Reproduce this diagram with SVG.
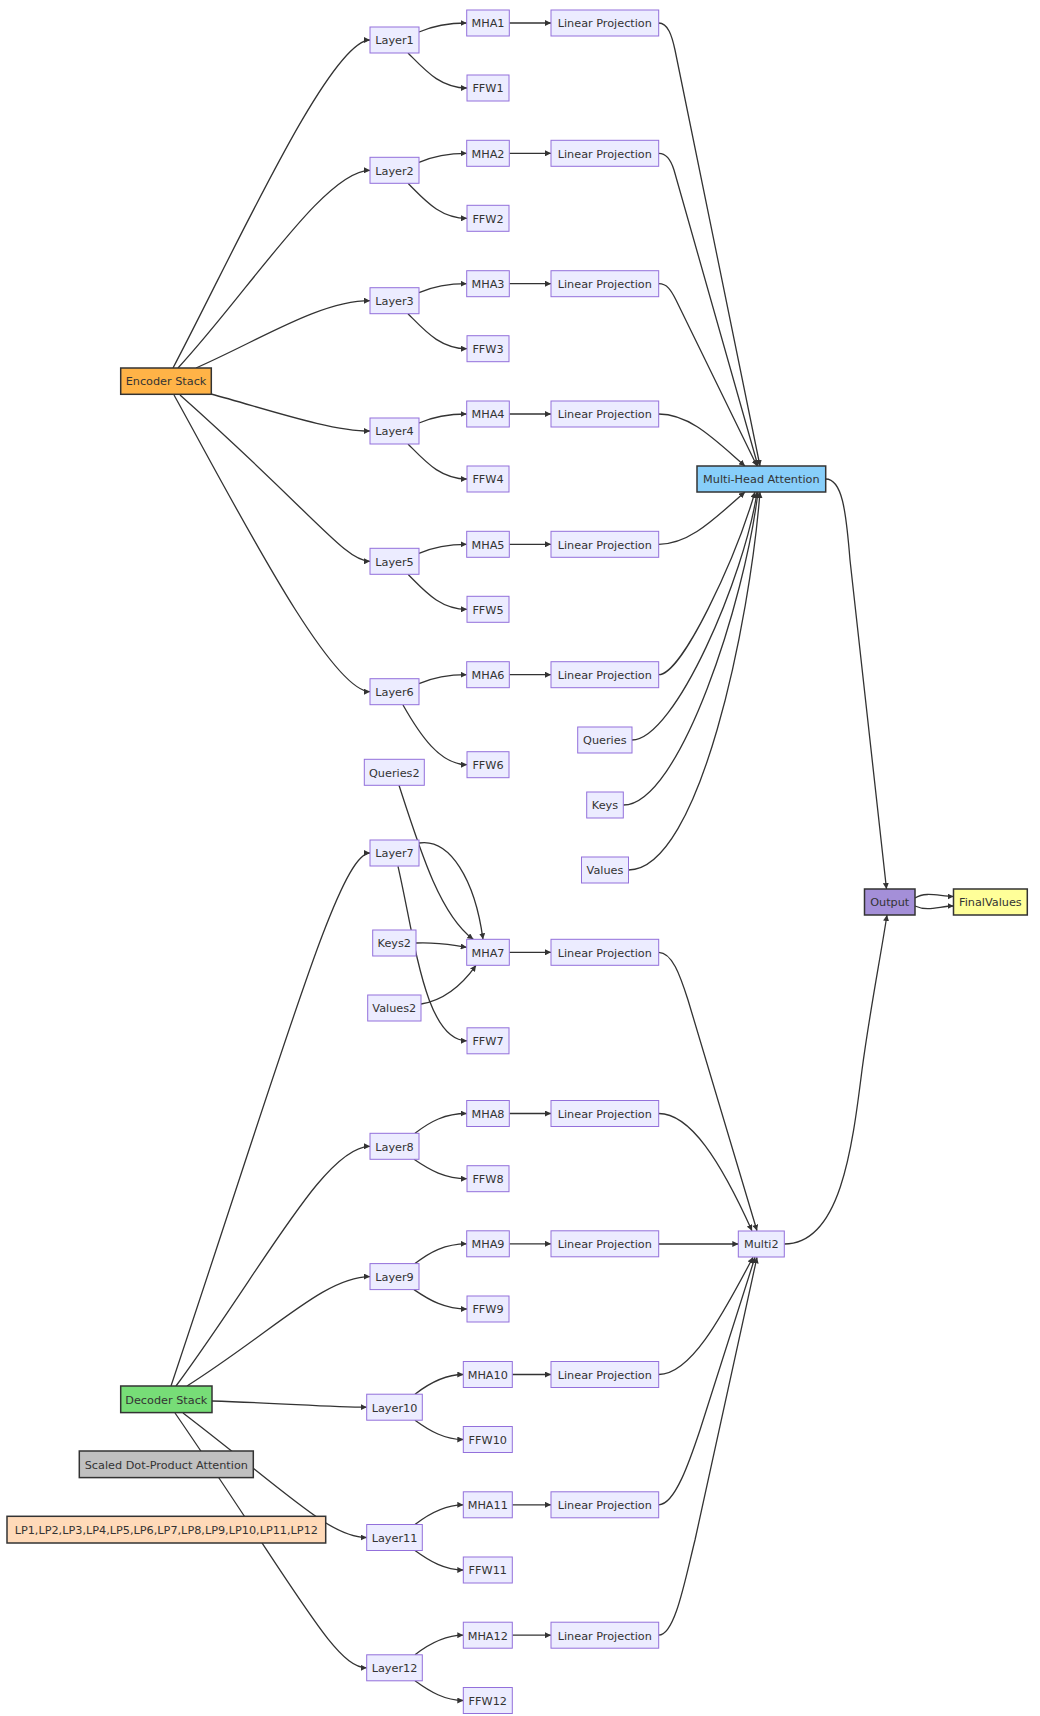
<svg xmlns="http://www.w3.org/2000/svg" width="1040" height="1716" viewBox="0 0 1040 1716">
<defs>
<marker id="arr" viewBox="0 0 10 10" refX="10" refY="5" markerWidth="6" markerHeight="6" markerUnits="userSpaceOnUse" orient="auto"><path d="M0,0 L10,5 L0,10 z" fill="#333"/></marker>
</defs>
<style>
.e{fill:none;stroke:#333;stroke-width:1.3;marker-end:url(#arr)}
.n rect{fill:#ECECFF;stroke:#9370DB;stroke-width:1}
.s rect{stroke:#333;stroke-width:1.5}
text{font-family:"DejaVu Sans",Verdana,sans-serif;font-size:11.25px;fill:#333;text-anchor:middle}
</style>
<rect width="1040" height="1716" fill="#fff"/>
<g id="connectors">
<path class="e" d="M173,368 C235,250 330,40 370,40"/>
<path class="e" d="M178,368 C250,290 325,170.3 370,170.3"/>
<path class="e" d="M196,368 C260,340 320,300.7 370,300.7"/>
<path class="e" d="M211,394 C270,410 330,431 370,431"/>
<path class="e" d="M180,395 C315,515 345,561.3 370,561.3"/>
<path class="e" d="M174,395 C235,505 330,691.7 370,691.7"/>
<path class="e" d="M419,32 C435,25 450,23 466.7,23"/>
<path class="e" d="M419,162.3 C435,155.3 450,153.3 466.7,153.3"/>
<path class="e" d="M419,292.7 C435,285.7 450,283.7 466.7,283.7"/>
<path class="e" d="M419,423 C435,416 450,414 466.7,414"/>
<path class="e" d="M419,553.3 C435,546.3 450,544.3 466.7,544.3"/>
<path class="e" d="M419,683.7 C435,676.7 450,674.7 466.7,674.7"/>
<path class="e" d="M408,53 C425,70 440,88 467,88"/>
<path class="e" d="M408,183.3 C425,200.3 440,218.3 467,218.3"/>
<path class="e" d="M408,313.7 C425,330.7 440,348.7 467,348.7"/>
<path class="e" d="M408,444 C425,461 440,479 467,479"/>
<path class="e" d="M408,574.3 C425,591.3 440,609.3 467,609.3"/>
<path class="e" d="M403,705 C420,735 440,764.7 467,764.7"/>
<path class="e" d="M509.3,23 L551,23"/>
<path class="e" d="M509.3,153.3 L551,153.3"/>
<path class="e" d="M509.3,283.7 L551,283.7"/>
<path class="e" d="M509.3,414 L551,414"/>
<path class="e" d="M509.3,544.3 L551,544.3"/>
<path class="e" d="M509.3,674.7 L551,674.7"/>
<path class="e" d="M658.7,23 C668,23 672,36 675,50 L760,466"/>
<path class="e" d="M658.7,153.3 C667,153.3 671,160 674,170 L758,466"/>
<path class="e" d="M658.7,283.7 C667,283.7 671,290 676,300 L757,466"/>
<path class="e" d="M658.7,414 C690,414 715,440 745,466"/>
<path class="e" d="M658.7,544.3 C690,544.3 715,518 745,492"/>
<path class="e" d="M658.7,674.7 C682,674.7 735,560 755,492"/>
<path class="e" d="M632,740 C675,740 745,575 757,492"/>
<path class="e" d="M623.3,805 C680,805 745,600 758,492"/>
<path class="e" d="M628.5,870 C700,870 750,620 760,492"/>
<path class="e" d="M825.7,479 C842,479 846,510 850,560 L886.5,889"/>
<path class="e" d="M915,898 C926,891 940,896.5 953.5,896.5"/>
<path class="e" d="M915,906 C928,912 940,906 953.5,906"/>
<path class="e" d="M784.3,1244 C840,1244 852,1150 862,1070 C870,1010 880,960 887,915"/>
<path class="e" d="M171,1386 C290,1030 340,853 370,853"/>
<path class="e" d="M176,1386 C265,1265 325,1146.3 370,1146.3"/>
<path class="e" d="M187,1386 C275,1330 325,1276.6 370,1276.6"/>
<path class="e" d="M212,1401 C280,1403 330,1407.2 366.7,1407.2"/>
<path class="e" d="M183,1413 C290,1495 330,1537.5 366.7,1537.5"/>
<path class="e" d="M175,1413 C300,1595 335,1667.8 366.7,1667.8"/>
<path class="e" d="M419,843 C450,838 475,880 483,939.3"/>
<path class="e" d="M398,866.3 C415,940 425,1040.8 467,1040.8"/>
<path class="e" d="M399,785.3 C420,850 440,915 473.3,939.3"/>
<path class="e" d="M416,943 C440,942 450,945 466.7,947.3"/>
<path class="e" d="M421,1004 C445,1000 462,985 476,965.3"/>
<path class="e" d="M509.3,952.3 L551,952.3"/>
<path class="e" d="M415,1133.3 C430,1121.5 445,1113.5 466.7,1113.5"/>
<path class="e" d="M415,1263.6 C430,1251.8 445,1243.8 466.7,1243.8"/>
<path class="e" d="M415,1394.2 C430,1382.5 445,1374.5 463.3,1374.5"/>
<path class="e" d="M415,1524.5 C430,1512.8 445,1504.8 463.3,1504.8"/>
<path class="e" d="M415,1654.8 C430,1643.2 445,1635.2 463.3,1635.2"/>
<path class="e" d="M414,1159.3 C430,1170.3 445,1178.7 467,1178.7"/>
<path class="e" d="M414,1289.6 C430,1300.6 445,1309 467,1309"/>
<path class="e" d="M415,1420.2 C430,1431.2 445,1439.5 463.3,1439.5"/>
<path class="e" d="M415,1550.5 C430,1561.5 445,1570 463.3,1570"/>
<path class="e" d="M415,1680.8 C430,1691.8 445,1700.5 463.3,1700.5"/>
<path class="e" d="M509.3,1113.5 L551,1113.5"/>
<path class="e" d="M509.3,1243.8 L551,1243.8"/>
<path class="e" d="M512.3,1374.5 L551,1374.5"/>
<path class="e" d="M512.3,1504.8 L551,1504.8"/>
<path class="e" d="M512.3,1635.2 L551,1635.2"/>
<path class="e" d="M658.7,952.3 C672,952.3 680,975 688,1000 L757,1230.7"/>
<path class="e" d="M658.7,1113.5 C690,1113.5 720,1160 752,1230.7"/>
<path class="e" d="M658.7,1244 L738.3,1244"/>
<path class="e" d="M658.7,1374.5 C690,1374.5 720,1320 753,1257.3"/>
<path class="e" d="M658.7,1504.8 C675,1504.8 690,1460 700,1430 L755,1257.3"/>
<path class="e" d="M658.7,1635.2 C675,1635.2 685,1580 695,1540 L757,1257.3"/>
</g>
<g id="EncoderStack" class="n s"><rect x="120.7" y="368" width="90.6" height="26.3" style="fill:#FFB347"/><text x="166" y="385.3">Encoder Stack</text></g>
<g id="DecoderStack" class="n s"><rect x="120.7" y="1386" width="91.3" height="26.6" style="fill:#77DD77"/><text x="166.3" y="1403.6">Decoder Stack</text></g>
<g id="ScaledDotProduct" class="n s"><rect x="79.3" y="1451" width="174" height="26.6" style="fill:#C0C0C0"/><text x="166.3" y="1468.6">Scaled Dot-Product Attention</text></g>
<g id="LPList" class="n s"><rect x="7" y="1516.3" width="318.7" height="26.7" style="fill:#FFDAB9"/><text x="166.3" y="1534">LP1,LP2,LP3,LP4,LP5,LP6,LP7,LP8,LP9,LP10,LP11,LP12</text></g>
<g id="MultiHeadAttention" class="n s"><rect x="697" y="466" width="128.7" height="26" style="fill:#87CEFA"/><text x="761.3" y="483.3">Multi-Head Attention</text></g>
<g id="Output" class="n s"><rect x="864.5" y="889" width="50.5" height="26" style="fill:#A48FD8"/><text x="889.7" y="906.3">Output</text></g>
<g id="FinalValues" class="n s"><rect x="953.5" y="889" width="73.8" height="26" style="fill:#FFFF99"/><text x="990.4" y="906.3">FinalValues</text></g>
<g id="Multi2" class="n"><rect x="738.3" y="1231" width="46" height="26"/><text x="761.3" y="1248.3">Multi2</text></g>
<g id="Layer1" class="n"><rect x="370" y="27" width="49" height="26"/><text x="394.5" y="44.3">Layer1</text></g>
<g id="Layer2" class="n"><rect x="370" y="157.3" width="49" height="26"/><text x="394.5" y="174.6">Layer2</text></g>
<g id="Layer3" class="n"><rect x="370" y="287.7" width="49" height="26"/><text x="394.5" y="305">Layer3</text></g>
<g id="Layer4" class="n"><rect x="370" y="418" width="49" height="26"/><text x="394.5" y="435.3">Layer4</text></g>
<g id="Layer5" class="n"><rect x="370" y="548.3" width="49" height="26"/><text x="394.5" y="565.6">Layer5</text></g>
<g id="Layer6" class="n"><rect x="370" y="678.7" width="49" height="26"/><text x="394.5" y="696">Layer6</text></g>
<g id="Layer7" class="n"><rect x="370" y="840" width="49" height="26"/><text x="394.5" y="857.3">Layer7</text></g>
<g id="Layer8" class="n"><rect x="370" y="1133.3" width="49" height="26"/><text x="394.5" y="1150.6">Layer8</text></g>
<g id="Layer9" class="n"><rect x="370" y="1263.6" width="49" height="26"/><text x="394.5" y="1280.9">Layer9</text></g>
<g id="Layer10" class="n"><rect x="366.7" y="1394.2" width="55.6" height="26"/><text x="394.5" y="1411.5">Layer10</text></g>
<g id="Layer11" class="n"><rect x="366.7" y="1524.5" width="55.6" height="26"/><text x="394.5" y="1541.8">Layer11</text></g>
<g id="Layer12" class="n"><rect x="366.7" y="1654.8" width="55.6" height="26"/><text x="394.5" y="1672.1">Layer12</text></g>
<g id="MHA1" class="n"><rect x="466.7" y="10" width="42.6" height="26"/><text x="488" y="27.3">MHA1</text></g>
<g id="MHA2" class="n"><rect x="466.7" y="140.3" width="42.6" height="26"/><text x="488" y="157.6">MHA2</text></g>
<g id="MHA3" class="n"><rect x="466.7" y="270.7" width="42.6" height="26"/><text x="488" y="288">MHA3</text></g>
<g id="MHA4" class="n"><rect x="466.7" y="401" width="42.6" height="26"/><text x="488" y="418.3">MHA4</text></g>
<g id="MHA5" class="n"><rect x="466.7" y="531.3" width="42.6" height="26"/><text x="488" y="548.6">MHA5</text></g>
<g id="MHA6" class="n"><rect x="466.7" y="661.7" width="42.6" height="26"/><text x="488" y="679">MHA6</text></g>
<g id="MHA7" class="n"><rect x="466.7" y="939.3" width="42.6" height="26"/><text x="488" y="956.6">MHA7</text></g>
<g id="MHA8" class="n"><rect x="466.7" y="1100.5" width="42.6" height="26"/><text x="488" y="1117.8">MHA8</text></g>
<g id="MHA9" class="n"><rect x="466.7" y="1230.8" width="42.6" height="26"/><text x="488" y="1248.1">MHA9</text></g>
<g id="MHA10" class="n"><rect x="463.3" y="1361.5" width="49" height="26"/><text x="487.8" y="1378.8">MHA10</text></g>
<g id="MHA11" class="n"><rect x="463.3" y="1491.8" width="49" height="26"/><text x="487.8" y="1509.1">MHA11</text></g>
<g id="MHA12" class="n"><rect x="463.3" y="1622.2" width="49" height="26"/><text x="487.8" y="1639.5">MHA12</text></g>
<g id="FFW1" class="n"><rect x="467" y="75" width="42" height="26"/><text x="488" y="92.3">FFW1</text></g>
<g id="FFW2" class="n"><rect x="467" y="205.3" width="42" height="26"/><text x="488" y="222.6">FFW2</text></g>
<g id="FFW3" class="n"><rect x="467" y="335.7" width="42" height="26"/><text x="488" y="353">FFW3</text></g>
<g id="FFW4" class="n"><rect x="467" y="466" width="42" height="26"/><text x="488" y="483.3">FFW4</text></g>
<g id="FFW5" class="n"><rect x="467" y="596.3" width="42" height="26"/><text x="488" y="613.6">FFW5</text></g>
<g id="FFW6" class="n"><rect x="467" y="751.7" width="42" height="26"/><text x="488" y="769">FFW6</text></g>
<g id="FFW7" class="n"><rect x="467" y="1027.8" width="42" height="26"/><text x="488" y="1045.1">FFW7</text></g>
<g id="FFW8" class="n"><rect x="467" y="1165.7" width="42" height="26"/><text x="488" y="1183">FFW8</text></g>
<g id="FFW9" class="n"><rect x="467" y="1296" width="42" height="26"/><text x="488" y="1313.3">FFW9</text></g>
<g id="FFW10" class="n"><rect x="463.3" y="1426.5" width="49" height="26"/><text x="487.8" y="1443.8">FFW10</text></g>
<g id="FFW11" class="n"><rect x="463.3" y="1557" width="49" height="26"/><text x="487.8" y="1574.3">FFW11</text></g>
<g id="FFW12" class="n"><rect x="463.3" y="1687.5" width="49" height="26"/><text x="487.8" y="1704.8">FFW12</text></g>
<g id="LP1" class="n"><rect x="551" y="10" width="107.7" height="26"/><text x="604.8" y="27.3">Linear Projection</text></g>
<g id="LP2" class="n"><rect x="551" y="140.3" width="107.7" height="26"/><text x="604.8" y="157.6">Linear Projection</text></g>
<g id="LP3" class="n"><rect x="551" y="270.7" width="107.7" height="26"/><text x="604.8" y="288">Linear Projection</text></g>
<g id="LP4" class="n"><rect x="551" y="401" width="107.7" height="26"/><text x="604.8" y="418.3">Linear Projection</text></g>
<g id="LP5" class="n"><rect x="551" y="531.3" width="107.7" height="26"/><text x="604.8" y="548.6">Linear Projection</text></g>
<g id="LP6" class="n"><rect x="551" y="661.7" width="107.7" height="26"/><text x="604.8" y="679">Linear Projection</text></g>
<g id="LP7" class="n"><rect x="551" y="939.3" width="107.7" height="26"/><text x="604.8" y="956.6">Linear Projection</text></g>
<g id="LP8" class="n"><rect x="551" y="1100.5" width="107.7" height="26"/><text x="604.8" y="1117.8">Linear Projection</text></g>
<g id="LP9" class="n"><rect x="551" y="1230.8" width="107.7" height="26"/><text x="604.8" y="1248.1">Linear Projection</text></g>
<g id="LP10" class="n"><rect x="551" y="1361.5" width="107.7" height="26"/><text x="604.8" y="1378.8">Linear Projection</text></g>
<g id="LP11" class="n"><rect x="551" y="1491.8" width="107.7" height="26"/><text x="604.8" y="1509.1">Linear Projection</text></g>
<g id="LP12" class="n"><rect x="551" y="1622.2" width="107.7" height="26"/><text x="604.8" y="1639.5">Linear Projection</text></g>
<g id="Queries" class="n"><rect x="577.7" y="727" width="54.3" height="26"/><text x="604.8" y="744.3">Queries</text></g>
<g id="Keys" class="n"><rect x="586.7" y="792" width="36.6" height="26"/><text x="605" y="809.3">Keys</text></g>
<g id="Values" class="n"><rect x="581.5" y="857" width="47" height="26"/><text x="605" y="874.3">Values</text></g>
<g id="Queries2" class="n"><rect x="364.3" y="759.3" width="60" height="26"/><text x="394.3" y="776.6">Queries2</text></g>
<g id="Keys2" class="n"><rect x="372.7" y="930" width="43.3" height="26"/><text x="394.3" y="947.3">Keys2</text></g>
<g id="Values2" class="n"><rect x="367.7" y="995" width="53.3" height="26"/><text x="394.3" y="1012.3">Values2</text></g>
</svg>
